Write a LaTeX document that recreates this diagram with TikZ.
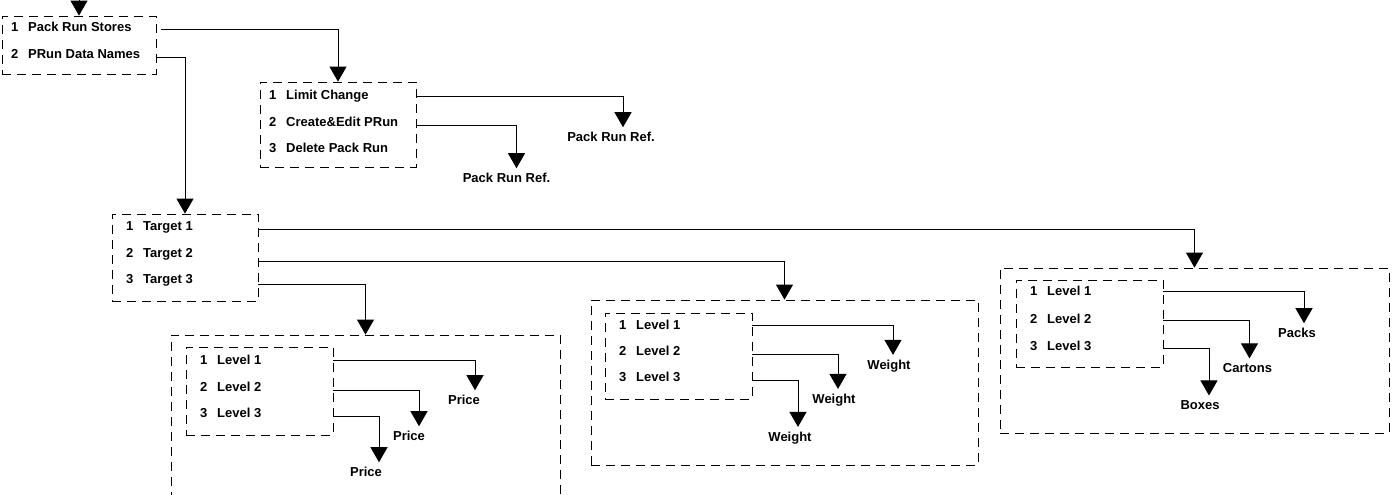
\documentclass[tikz,border=0pt]{standalone}
\usepackage{fontspec}
\setmainfont{Liberation Sans}
\usetikzlibrary{arrows.meta}

\newcommand{\itemno}[1]{\makebox[17pt][l]{#1}}

\begin{document}
\begin{tikzpicture}[x=1pt,y=-1pt,
  font=\fontsize{13}{15}\selectfont\bfseries,
  menubox/.style={draw, dash pattern=on 9pt off 6pt, line width=0.8pt, inner sep=0pt},
  item/.style={anchor=west, inner sep=1pt},
  result/.style={inner sep=1pt, outer sep=4pt},
  link/.style={-{Triangle[width=17pt,length=15pt]}, line width=0.9pt}]
\clip (0,0) rectangle (1398,495);

% menu boxes
\node[menubox, minimum width=154pt, minimum height=58pt] (stores) at (79,45) {};
\node[menubox, minimum width=156pt, minimum height=85pt] (limits) at (338,124.5) {};
\node[menubox, minimum width=146pt, minimum height=87pt] (targets) at (185,257.5) {};
\node[menubox, minimum width=389pt, minimum height=205pt] (priceouter) at (365.5,437.5) {};
\node[menubox, minimum width=147pt, minimum height=88pt] (pricelevels) at (259.5,391) {};
\node[menubox, minimum width=387pt, minimum height=165pt] (weightouter) at (784.5,382.5) {};
\node[menubox, minimum width=147pt, minimum height=86pt] (weightlevels) at (678.5,356) {};
\node[menubox, minimum width=389pt, minimum height=165pt] (unitouter) at (1194.5,350.5) {};
\node[menubox, minimum width=147pt, minimum height=87pt] (unitlevels) at (1089.5,323.5) {};

% menu items
\node[item] (prs) at (10,27) {\itemno{1}Pack Run Stores};
\node[item] (prd) at (10,54) {\itemno{2}PRun Data Names};
\node[item] (lc) at (268,96) {\itemno{1}Limit Change};
\node[item] (ce) at (268,122) {\itemno{2}Create\&Edit PRun};
\node[item] (dp) at (268,148) {\itemno{3}Delete Pack Run};
\node[item] (t1) at (125,227) {\itemno{1}Target 1};
\node[item] (t2) at (125,254) {\itemno{2}Target 2};
\node[item] (t3) at (125,280) {\itemno{3}Target 3};
\node[item] (pl1) at (199,360) {\itemno{1}Level 1};
\node[item] (pl2) at (199,387) {\itemno{2}Level 2};
\node[item] (pl3) at (199,413) {\itemno{3}Level 3};
\node[item] (wl1) at (618,325) {\itemno{1}Level 1};
\node[item] (wl2) at (618,351) {\itemno{2}Level 2};
\node[item] (wl3) at (618,377) {\itemno{3}Level 3};
\node[item] (ul1) at (1029,291) {\itemno{1}Level 1};
\node[item] (ul2) at (1029,319) {\itemno{2}Level 2};
\node[item] (ul3) at (1029,346) {\itemno{3}Level 3};

% results
\node[result] (ref1) at (611,137) {Pack Run Ref.};
\node[result] (ref2) at (506.5,178) {Pack Run Ref.};
\node[result] (price1) at (464,400) {Price};
\node[result] (price2) at (409,436) {Price};
\node[result] (price3) at (366,472) {Price};
\node[result] (weight1) at (889,366) {Weight};
\node[result] (weight2) at (834,400) {Weight};
\node[result] (weight3) at (790,438) {Weight};
\node[result] (packs) at (1297,333) {Packs};
\node[result] (cartons) at (1247.5,368) {Cartons};
\node[result] (boxes) at (1200,405) {Boxes};

% connectors
\coordinate (entry) at (79,0);
\draw[link] (entry) -- (stores.north);
\draw[link] ([xshift=5pt,yshift=-2pt]prs.east -| stores.east) -| (limits.north);
\draw[link] ([yshift=-3pt]prd.east -| stores.east) -| (targets.north);
\draw[link] (lc.east -| limits.east) -| ([xshift=12pt]ref1.north);
\draw[link] ([yshift=-3pt]ce.east -| limits.east) -| ([xshift=10pt]ref2.north);
\draw[link] ([yshift=-2pt]t1.east -| targets.east) -| (unitouter.north);
\draw[link] ([yshift=-7pt]t2.east -| targets.east) -| (weightouter.north);
\draw[link] ([yshift=-4pt]t3.east -| targets.east) -| (priceouter.north);
\draw[link] (pl1.east -| pricelevels.east) -| ([xshift=11pt]price1.north);
\draw[link] ([yshift=-3pt]pl2.east -| pricelevels.east) -| ([xshift=10pt]price2.north);
\draw[link] ([yshift=-3pt]pl3.east -| pricelevels.east) -| ([xshift=13pt]price3.north);
\draw[link] (wl1.east -| weightlevels.east) -| ([xshift=4pt]weight1.north);
\draw[link] ([yshift=-3pt]wl2.east -| weightlevels.east) -| ([xshift=4pt]weight2.north);
\draw[link] ([yshift=-3pt]wl3.east -| weightlevels.east) -| ([xshift=8pt]weight3.north);
\draw[link] (ul1.east -| unitlevels.east) -| ([xshift=7pt]packs.north);
\draw[link] ([yshift=-1pt]ul2.east -| unitlevels.east) -| ([xshift=2pt]cartons.north);
\draw[link] ([yshift=-2pt]ul3.east -| unitlevels.east) -| ([xshift=9pt]boxes.north);
\end{tikzpicture}
\end{document}
